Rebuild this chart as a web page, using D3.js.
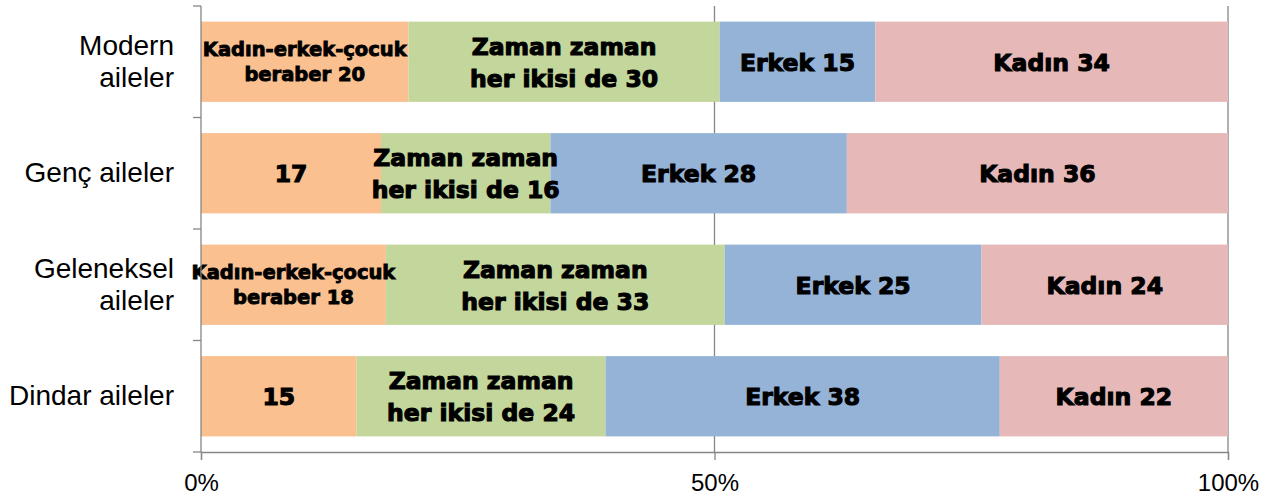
<!DOCTYPE html>
<html>
<head>
<meta charset="utf-8">
<script src="https://cdn.jsdelivr.net/npm/d3@7"></script>
<style>
  body { margin: 0; background: #fff; }
  svg { display: block; }
</style>
</head>
<body>
<div id="chart"></div>
<script>
// category names (top to bottom), each may be split in lines
const categories = ['Modern aileler', 'Genç aileler', 'Geleneksel aileler', 'Dindar aileler'];
const categoryLines = [['Modern', 'aileler'], ['Genç aileler'], ['Geleneksel', 'aileler'], ['Dindar aileler']];

// series, left to right
const seriesNames = ['Kadın-erkek-çocuk beraber', 'Zaman zaman her ikisi de', 'Erkek', 'Kadın'];
const seriesColors = ['#FAC090', '#C3D69B', '#95B3D7', '#E6B9B8'];

// values per series, same order as categories
const together = [20, 17, 18, 15];
const sometimes = [30, 16, 33, 24];
const men = [15, 28, 25, 38];
const women = [34, 36, 24, 22];
const seriesValues = [together, sometimes, men, women];

// whether the first series label shows its name
const showTogetherName = [true, false, true, false];

const xTicks = [0, 0.5, 1];

const W = 1280, H = 503;
const svg = d3.select('#chart').append('svg')
    .attr('width', W)
    .attr('height', H);

const x = d3.scaleLinear().domain([0, 1]).range([201, 1228]);
const y = d3.scaleBand().domain(categories).range([6, 452])
    .paddingInner(0.28).paddingOuter(0.14);

const gray = '#868686';

// stacked (normalised) rows
const rows = categories.map((c, i) => {
    const vals = seriesValues.map(s => s[i]);
    const total = d3.sum(vals);
    let acc = 0;
    return vals.map((v, k) => {
        const seg = { cat: c, ci: i, k, v, x0: acc / total, x1: (acc + v) / total };
        acc += v;
        return seg;
    });
});
const segments = rows.flat();

// gridlines at 50% and 100%
svg.append('g').selectAll('line')
    .data(xTicks.filter(t => t > 0))
    .enter().append('line')
    .attr('x1', d => x(d)).attr('x2', d => x(d))
    .attr('y1', 6).attr('y2', 452)
    .attr('stroke', gray).attr('stroke-width', 1.3);

// bars
svg.append('g').selectAll('rect')
    .data(segments)
    .enter().append('rect')
    .attr('x', d => x(d.x0))
    .attr('y', d => y(d.cat))
    .attr('width', d => x(d.x1) - x(d.x0))
    .attr('height', y.bandwidth())
    .attr('fill', d => seriesColors[d.k]);

// data labels
function labelLines(d) {
    if (d.k === 0) return showTogetherName[d.ci] ? ['Kadın-erkek-çocuk', 'beraber ' + d.v] : [String(d.v)];
    if (d.k === 1) return ['Zaman zaman', 'her ikisi de ' + d.v];
    return [seriesNames[d.k] + ' ' + d.v];
}

const labels = svg.append('g').selectAll('text')
    .data(segments)
    .enter().append('text')
    .attr('text-anchor', 'middle')
    .attr('font-family', 'DejaVu Sans')
    .attr('font-weight', 'bold')
    .attr('font-size', d => (d.k === 0 && showTogetherName[d.ci]) ? 19.5 : 23.5)
    .attr('fill', '#000')
    .attr('stroke', '#000')
    .attr('stroke-width', d => (d.k === 0 && showTogetherName[d.ci]) ? 0.9 : 1.1);

labels.each(function(d) {
    const lines = labelLines(d);
    const cx = (x(d.x0) + x(d.x1)) / 2;
    const cy = y(d.cat) + y.bandwidth() / 2;
    const small = d.k === 0 && showTogetherName[d.ci];
    const step = small ? 25 : 32;
    const half = small ? 7 : 9;
    const t = d3.select(this);
    lines.forEach((ln, j) => {
        const off = (j - (lines.length - 1) / 2) * step + half;
        t.append('tspan').attr('x', cx).attr('y', cy + off).text(ln);
    });
});

// y axis line and ticks
svg.append('line')
    .attr('x1', 201).attr('x2', 201).attr('y1', 6).attr('y2', 452)
    .attr('stroke', gray).attr('stroke-width', 1.3);
const bounds = categories.map(c => y(c) - y.step() * y.paddingInner() / 2);
bounds[0] = 6;
bounds.push(452);
svg.append('g').selectAll('line')
    .data(bounds)
    .enter().append('line')
    .attr('x1', 193).attr('x2', 201)
    .attr('y1', d => d).attr('y2', d => d)
    .attr('stroke', gray).attr('stroke-width', 1.3);

// category labels
svg.append('g').selectAll('text')
    .data(categories)
    .enter().append('text')
    .attr('text-anchor', 'end')
    .attr('font-family', 'Liberation Sans')
    .attr('font-size', 28)
    .attr('fill', '#000')
    .each(function(c, i) {
        const lines = categoryLines[i];
        const cy = y(c) + y.bandwidth() / 2;
        lines.forEach((ln, j) => {
            const off = (j - (lines.length - 1) / 2) * 32 + 9;
            d3.select(this).append('tspan').attr('x', 174).attr('y', cy + off).text(ln);
        });
    });

// x axis
const xAxis = d3.axisBottom(x)
    .tickValues(xTicks)
    .tickFormat(d3.format('.0%'))
    .tickSize(8)
    .tickPadding(14);
const gx = svg.append('g')
    .attr('transform', 'translate(0,452)')
    .call(xAxis);
gx.select('.domain').attr('stroke', gray).attr('stroke-width', 1.3);
gx.selectAll('.tick line').attr('stroke', gray).attr('stroke-width', 1.3);
gx.selectAll('.tick text')
    .attr('font-family', 'Liberation Sans')
    .attr('font-size', 24)
    .attr('fill', '#000');
</script>
</body>
</html>
